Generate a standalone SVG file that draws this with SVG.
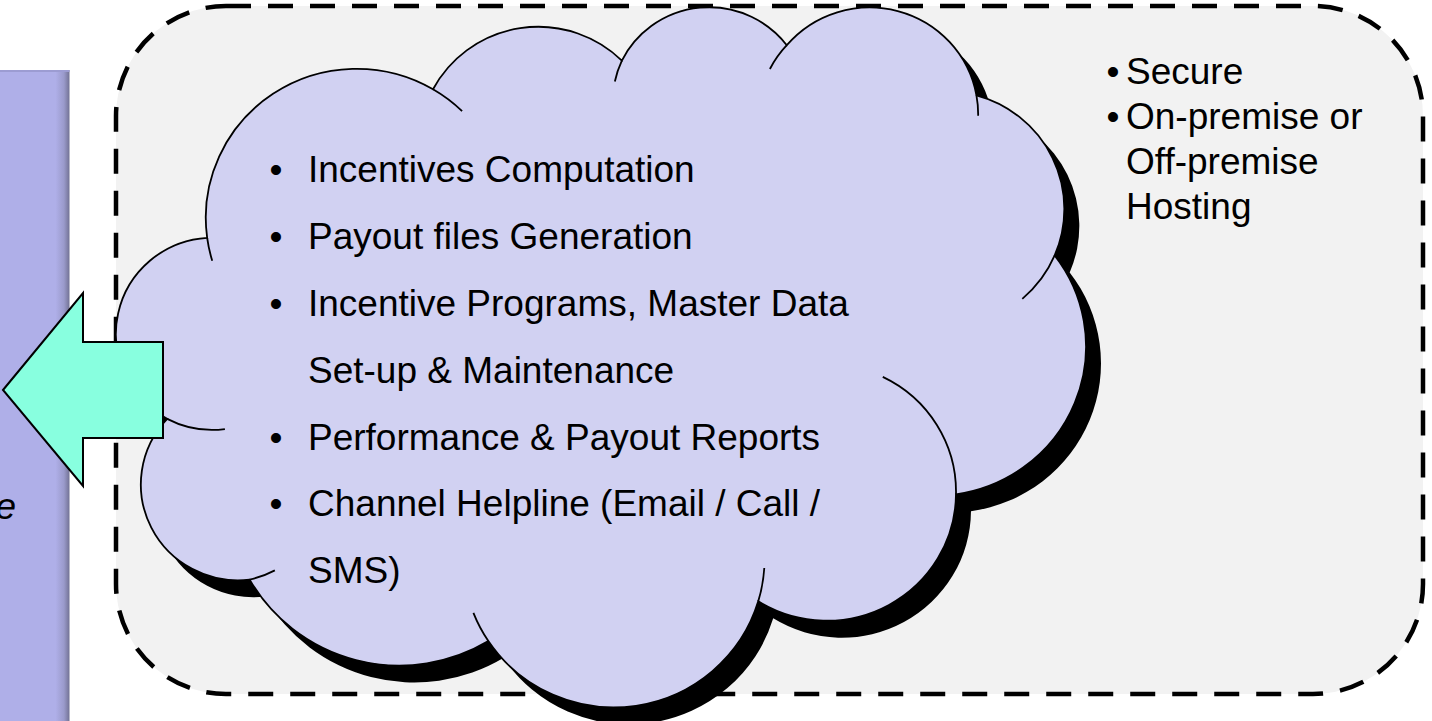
<svg xmlns="http://www.w3.org/2000/svg" width="1432" height="721" viewBox="0 0 1432 721">
<defs>
<style>
.txt{font-family:"Liberation Sans",Arial,sans-serif;font-size:37px;fill:#000}
.dashed{fill:#F2F2F2;stroke:#000;stroke-width:4.5;stroke-dasharray:25 17}
.outline{stroke:#000;stroke-width:1.8;fill:none}
</style>
<linearGradient id="panelShade" x1="0" y1="0" x2="69.5" y2="0" gradientUnits="userSpaceOnUse">
<stop offset="0" stop-color="#AFAFE8"/>
<stop offset="0.8" stop-color="#AFAFE8"/>
<stop offset="0.92" stop-color="#9A9ACB"/>
<stop offset="1" stop-color="#727294"/>
</linearGradient>
<path id="cloudShape" vector-effect="non-scaling-stroke" d="M3900 14370 A6753 9190 0 0 1 14004.8 5201.9 A5333 7267 0 0 1 22455.8 3432.2 A4365 5945 0 0 1 29834.2 2481.8 A4857 6595 0 0 1 38319.6 5576.7 A5333 7273 0 0 1 41820.1 15460.6 A6775 9220 0 0 1 37404.1 30202.6 A5785 7867 0 0 1 28556.1 36813.2 A6752 9215 0 0 1 16480.7 39264.8 A7720 10543 0 0 1 5801.5 35468.6 A4360 5918 0 0 1 2111 25545.6 A4345 5945 0 0 1 3900 14370 Z"/>
</defs>
<rect x="0" y="0" width="1432" height="721" fill="#FFFFFF"/>
<g id="left-panel">
<rect x="0" y="70" width="69.5" height="651" fill="url(#panelShade)"/>
<rect x="0" y="70" width="69.5" height="2" fill="#9C9CD2"/>
<text class="txt" x="16" y="519" text-anchor="end" font-style="italic">e</text>
</g>
<g id="hosting-box">
<rect class="dashed" x="116" y="6" width="1307" height="688" rx="110" ry="110"/>
</g>
<g id="cloud">
<use href="#cloudShape" transform="translate(135 22) scale(0.02235 0.0162)" fill="#000000"/>
<g transform="translate(120 5) scale(0.02235 0.0162)">
<use href="#cloudShape" fill="#D1D1F2" stroke="#000" stroke-width="1.8"/>
<path class="outline" vector-effect="non-scaling-stroke" d="M4126.9 15789.2 A6753 9190 0 0 1 3900 14370 M14004.8 5201.9 A6753 9190 0 0 1 15305.8 6551.6 M22141 4720 A4365 5945 0 0 1 22455.8 3432.2 M29078 3952 A4857 6595 0 0 1 29834.2 2481.8 M38319.6 5576.7 A4857 6595 0 0 1 38396 6839.6 M41820.1 15460.6 A5333 7273 0 0 1 40371.6 18137.1 M34129 22954 A5785 7867 0 0 1 37404.1 30202.6 M28827 34751 A6752 9215 0 0 1 28556.1 36813.2 M16480.7 39264.8 A6752 9215 0 0 1 15812.3 37523.3 M6928 34899 A4360 5918 0 0 1 5801.5 35468.6 M4693 26177 A4345 5945 0 0 1 2111 25545.6"/>
</g>
<g class="txt">
<text class="txt" x="276" y="182" text-anchor="middle">•</text>
<text class="txt" x="308" y="182">Incentives Computation</text>
<text class="txt" x="276" y="249" text-anchor="middle">•</text>
<text class="txt" x="308" y="249">Payout files Generation</text>
<text class="txt" x="276" y="316" text-anchor="middle">•</text>
<text class="txt" x="308" y="316">Incentive Programs, Master Data</text>
<text class="txt" x="308" y="383">Set-up &amp; Maintenance</text>
<text class="txt" x="276" y="450" text-anchor="middle">•</text>
<text class="txt" x="308" y="450">Performance &amp; Payout Reports</text>
<text class="txt" x="276" y="516" text-anchor="middle">•</text>
<text class="txt" x="308" y="516">Channel Helpline (Email / Call /</text>
<text class="txt" x="308" y="583">SMS)</text>
</g>
</g>
<g id="hosting-notes">
<text class="txt" x="1113" y="84" text-anchor="middle" font-size="30">•</text>
<text class="txt" x="1126" y="84">Secure</text>
<text class="txt" x="1113" y="129" text-anchor="middle" font-size="30">•</text>
<text class="txt" x="1126" y="129">On-premise or</text>
<text class="txt" x="1126" y="174">Off-premise</text>
<text class="txt" x="1126" y="219">Hosting</text>
</g>
<g id="connectors">
<polygon points="3,390 83,293 83,342 163,342 163,438 83,438 83,486" fill="#88FFDF" stroke="#000" stroke-width="2" stroke-linejoin="miter"/>
</g>
</svg>
